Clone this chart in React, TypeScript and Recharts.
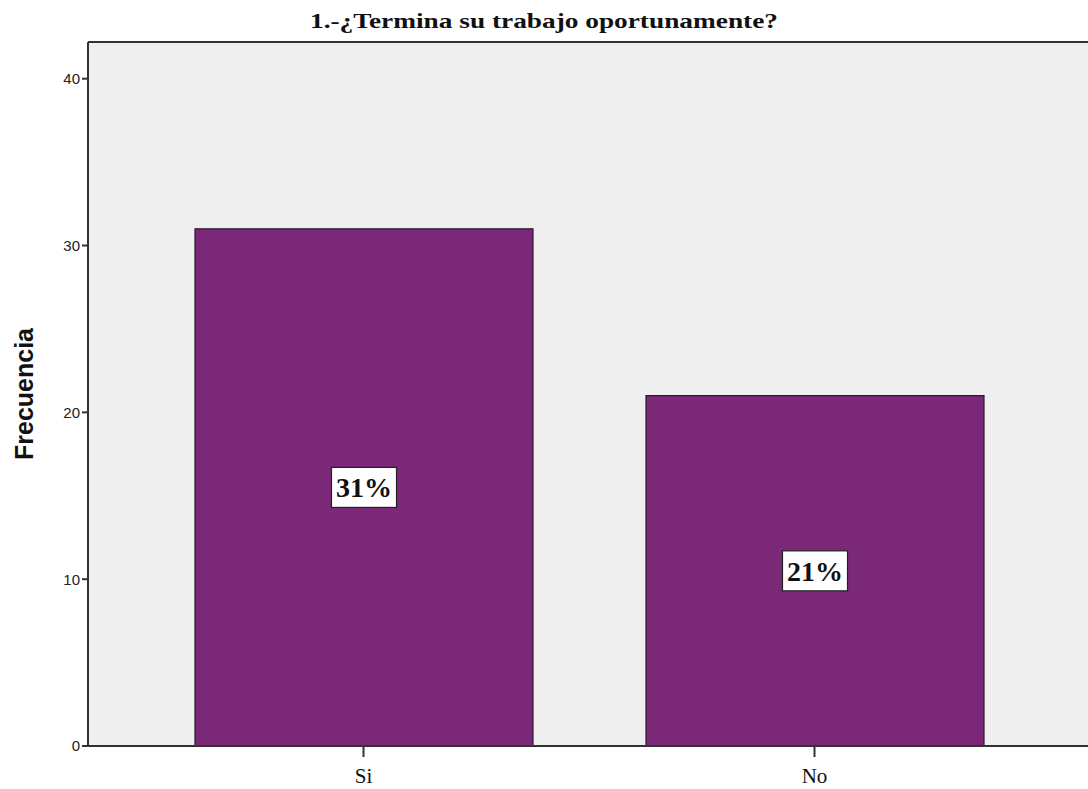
import React from 'react';
import {
  BarChart,
  Bar,
  XAxis,
  YAxis,
  CartesianGrid,
  LabelList,
  ReferenceLine,
} from 'recharts';

// Respuestas a la pregunta 1
const categorias: string[] = ['Si', 'No'];
const frecuencias: number[] = [31, 21];
const porcentajes: string[] = ['31%', '21%'];
const yTicks: number[] = [0, 10, 20, 30, 40];

const data = categorias.map((c, i) => ({
  respuesta: c,
  frecuencia: frecuencias[i],
  pct: porcentajes[i],
}));

const Y_MAX = 42.2;

// White boxed percentage drawn at the middle of each bar
const PctLabel = (props: any) => {
  const { x, y, width, height, value } = props;
  const cx = x + width / 2;
  const cy = y + height / 2;
  const w = 65;
  const h = 40;
  return (
    <g>
      <rect
        x={cx - w / 2}
        y={cy - h / 2}
        width={w}
        height={h}
        fill="#ffffff"
        stroke="#222"
        strokeWidth={1.2}
      />
      <text
        x={cx}
        y={cy + 10}
        textAnchor="middle"
        fontFamily="'Liberation Serif', serif"
        fontWeight="bold"
        fontSize={28}
        fill="#111"
      >
        {value}
      </text>
    </g>
  );
};

export default function App() {
  return (
    <div style={{ position: 'absolute', left: 0, top: 0, background: '#fff' }}>
      <BarChart
        width={1088}
        height={789}
        data={data}
        margin={{ top: 42, right: 0, left: 0, bottom: 0 }}
      >
        <text
          x={310}
          y={28}
          textLength={468}
          lengthAdjust="spacingAndGlyphs"
          fontFamily="'Liberation Serif', serif"
          fontWeight="bold"
          fontSize={22}
          fill="#111"
        >
          1.-¿Termina su trabajo oportunamente?
        </text>
        <text
          transform="translate(33, 394) rotate(-90)"
          x={0}
          y={0}
          textAnchor="middle"
          fontFamily="'Liberation Sans', Arial, sans-serif"
          fontWeight="bold"
          fontSize={25}
          fill="#111"
        >
          Frecuencia
        </text>
        <CartesianGrid horizontal={false} vertical={false} fill="#efefef" />
        <XAxis
          dataKey="respuesta"
          padding={{ left: 50, right: 48 }}
          height={43}
          axisLine={{ stroke: '#333', strokeWidth: 2 }}
          tickLine={{ stroke: '#333', strokeWidth: 2 }}
          tickSize={11}
          tick={{
            fill: '#111',
            fontFamily: "'Liberation Serif', serif",
            fontSize: 21,
            dy: 9,
          }}
        />
        <YAxis
          domain={[0, Y_MAX]}
          ticks={yTicks}
          width={88}
          allowDataOverflow
          axisLine={{ stroke: '#333', strokeWidth: 2 }}
          tickLine={{ stroke: '#333', strokeWidth: 2 }}
          tickSize={6}
          tick={{
            fill: '#222',
            fontFamily: "'Liberation Sans', Arial, sans-serif",
            fontSize: 15,
          }}
        />
        <ReferenceLine y={Y_MAX} stroke="#333" strokeWidth={2} ifOverflow="visible" />
        <Bar
          dataKey="frecuencia"
          fill="#7b2878"
          stroke="#2a1a2a"
          strokeWidth={1.2}
          barSize={338}
          isAnimationActive={false}
        >
          <LabelList dataKey="pct" content={PctLabel} />
        </Bar>
      </BarChart>
    </div>
  );
}
